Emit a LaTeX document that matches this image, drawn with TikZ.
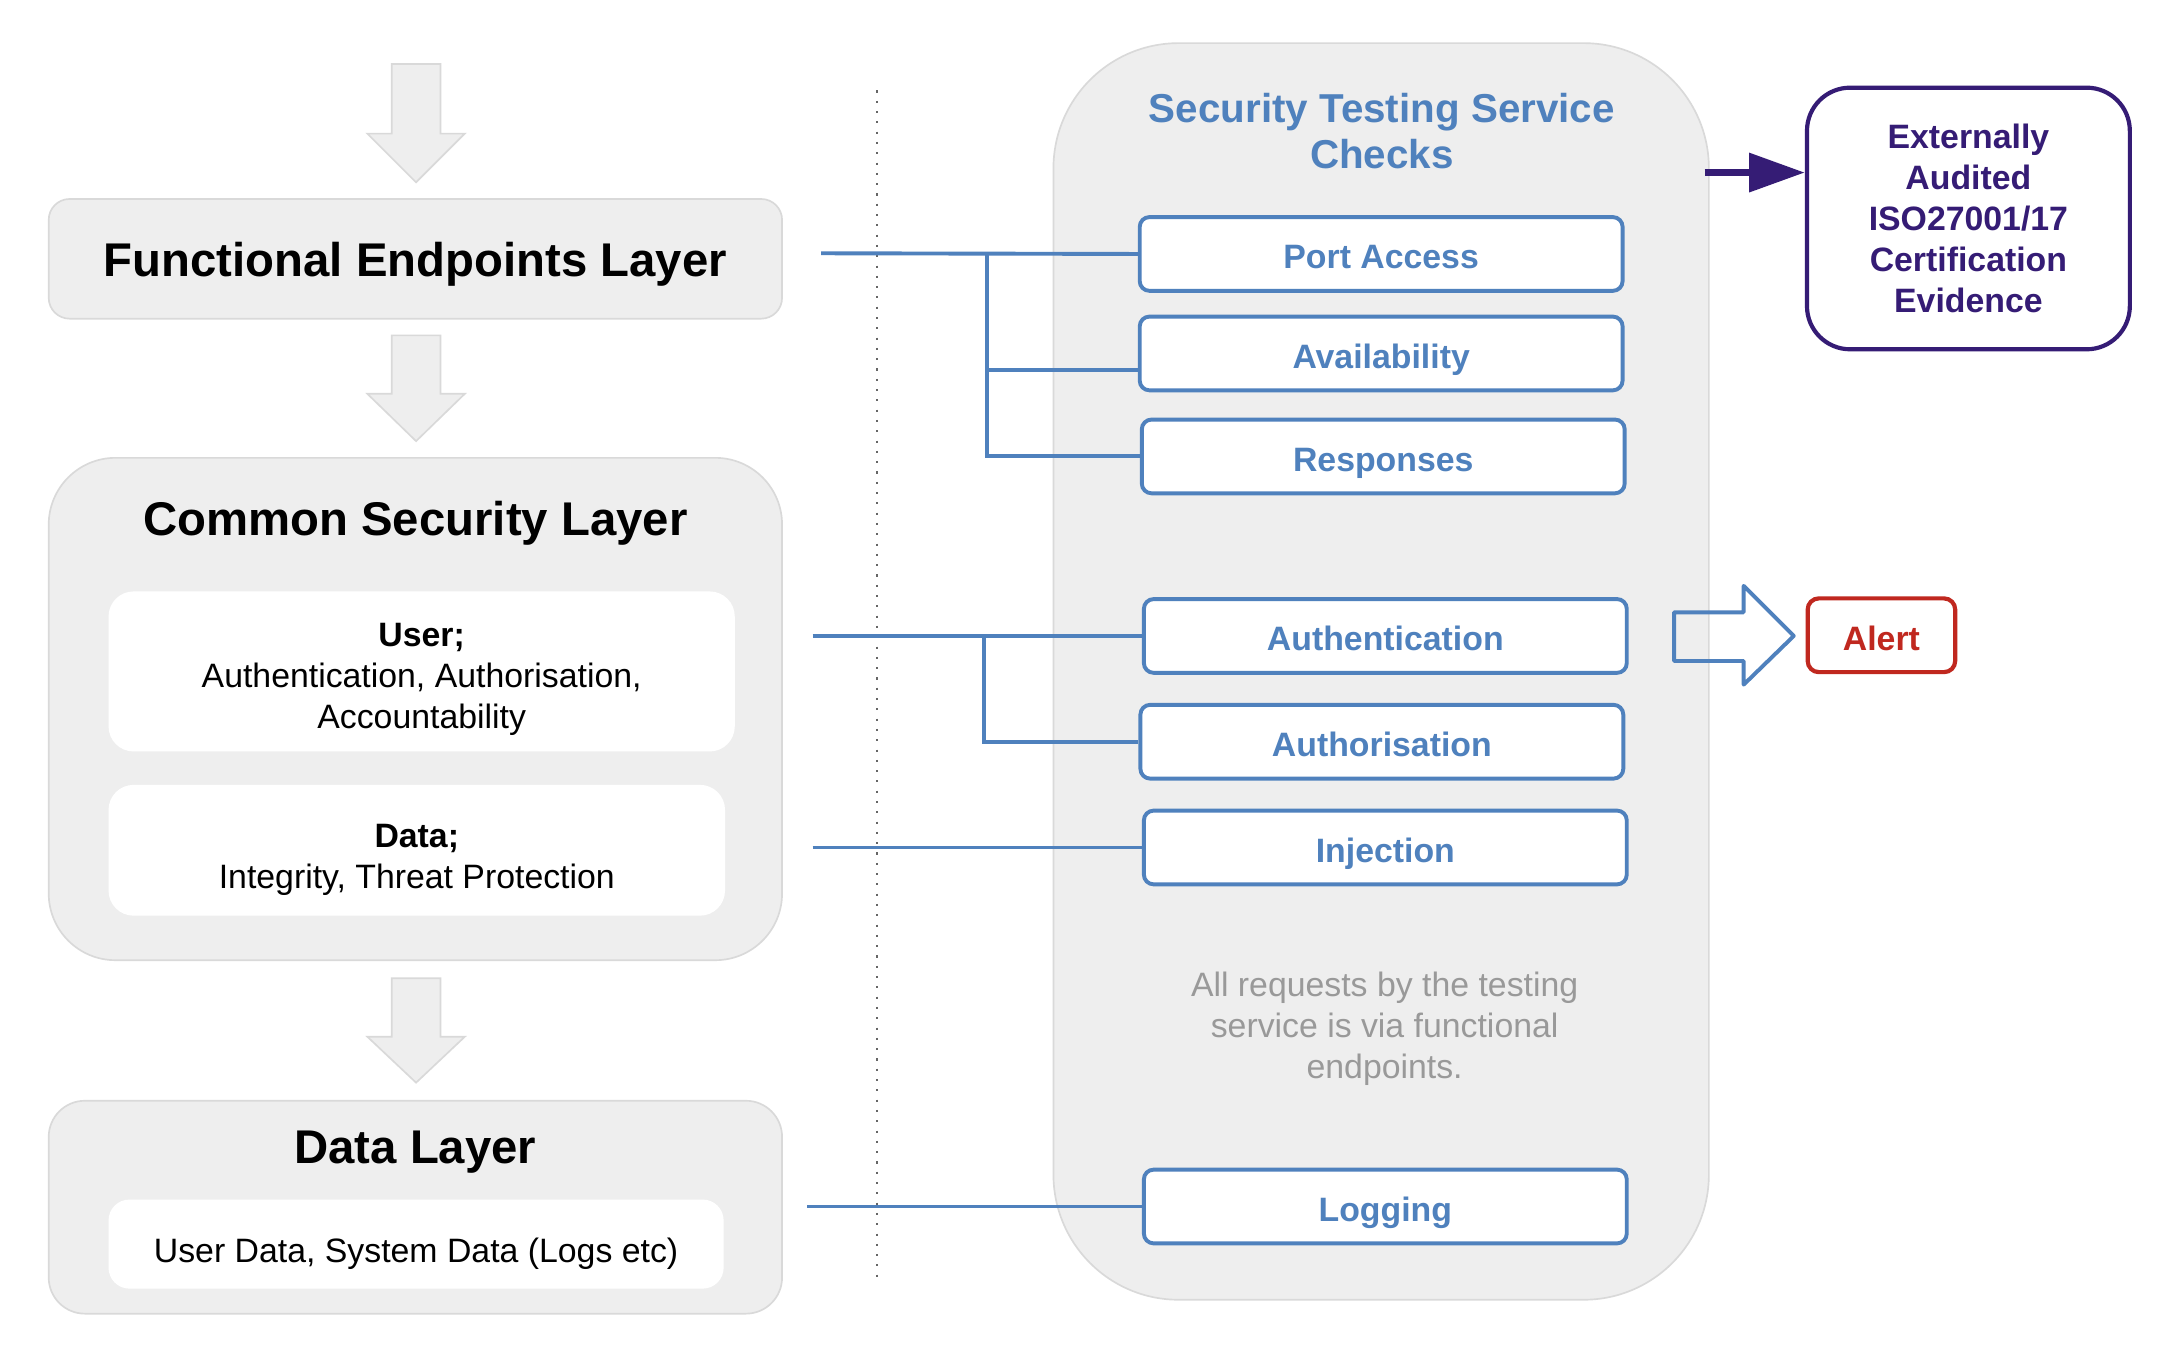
\documentclass[tikz,border=0pt]{standalone}
\usepackage{fontspec}
\setmainfont{Liberation Sans}
\usetikzlibrary{arrows.meta}
\definecolor{boxgray}{HTML}{EEEEEE}
\definecolor{edgegray}{HTML}{D9D9D9}
\definecolor{testblue}{HTML}{4F81BD}
\definecolor{auditpurple}{HTML}{351C75}
\definecolor{alertred}{HTML}{C0281F}
\definecolor{notegray}{HTML}{999999}

\begin{document}
\begin{tikzpicture}[x=1pt,y=-1pt,
        layer/.style={draw=edgegray,fill=boxgray,line width=1.2pt},
        inner/.style={fill=white,rounded corners=18pt},
        big/.style={font=\bfseries\fontsize{34}{40}\selectfont},
        small/.style={font=\fontsize{24.3}{29.5}\selectfont,align=center},
        check/.style={draw=testblue,line width=2.8pt,fill=white,rounded corners=7pt,
            minimum width=347pt,minimum height=53pt,text=testblue,
            text height=21.5pt,text depth=0pt,
            font=\bfseries\fontsize{24.3}{29.5}\selectfont},
        link/.style={draw=testblue,line width=2.8pt}]
        \fill[white] (0,0) rectangle (1568,969);
        % layers on the left
        \foreach \t/\n/\b in {46/96/131,241/283/317,703/745/778}
        {
            \draw[layer,line join=miter] (281.5,\t)--(316.5,\t)--(316.5,\n)--(334,\n)--(299,\b)--(264,\n)--(281.5,\n)--cycle;
        }
        \node[layer,rounded corners=15pt,minimum width=527pt,minimum height=86pt,big,text height=26pt,text depth=0pt] (fel) at (298.5,186) {Functional Endpoints Layer};
        \node[layer,rounded corners=48pt,minimum width=527pt,minimum height=361pt] (csl) at (298.5,509.5) {};
        \node[big] (csltitle) at (298.5,376) {Common Security Layer};
        \node[inner,minimum width=450pt,minimum height=115pt] (user) at (303,482.5) {};
        \node[small] (usertext) at (303,488.5) {\textbf{User;}\\Authentication, Authorisation,\\Accountability};
        \node[inner,minimum width=443pt,minimum height=94pt] (data) at (299.5,611) {};
        \node[small] (datatext) at (299.5,618) {\textbf{Data;}\\Integrity, Threat Protection};
        \node[layer,rounded corners=26pt,minimum width=527pt,minimum height=153pt] (dl) at (298.5,867.5) {};
        \node[big] (dltitle) at (298.5,828) {Data Layer};
        \node[inner,rounded corners=15pt,minimum width=442pt,minimum height=64pt] (dldata) at (299,894) {};
        \node[small] (dltext) at (299,901) {User Data, System Data (Logs etc)};
        % separator
        \coordinate (septop) at (630,65);
        \coordinate (sepbot) at (630,918);
        \draw[black!60,line width=1.5pt,dash pattern=on 1.5pt off 5.9pt] (septop)--(sepbot);
        % testing service
        \node[layer,rounded corners=90pt,minimum width=471pt,minimum height=903pt] (tests) at (992.5,482.5) {};
        \node[font=\bfseries\fontsize{29}{33}\selectfont,text=testblue,align=center] (teststitle) at (993,94.5) {Security Testing Service\\Checks};
        \node[check] (port) at (992.5,182.5) {Port Access};
        \node[check] (avail) at (992.5,254) {Availability};
        \node[check] (resp) at (994,328) {Responses};
        \node[check] (authn) at (995.5,457) {Authentication};
        \node[check] (authz) at (993,533) {Authorisation};
        \node[check] (inject) at (995.5,609) {Injection};
        \node[check] (logging) at (995.5,867) {Logging};
        \node[small,text=notegray] (note) at (995,739) {All requests by the testing\\service is via functional\\endpoints.};
        % connectors
        \coordinate (fe) at (590,182);
        \coordinate (j1) at (709,182);
        \draw[link] (fe)--(port.west);
        \draw[link] (j1)|-([yshift=-12pt]avail.west);
        \draw[link] (j1)|-(resp.west);
        \coordinate (ua) at (584,457);
        \coordinate (j2) at (707,457);
        \draw[link] (ua)--(authn.west);
        \draw[link] (j2)|-(authz.west);
        \coordinate (di) at (584,609);
        \draw[link] (di)--(inject.west);
        \coordinate (lg) at (580,867);
        \draw[link] (lg)--(logging.west);
        % outputs
        \node[draw=auditpurple,fill=white,line width=3pt,rounded corners=31pt,minimum width=232pt,minimum height=188pt,text=auditpurple,
            font=\bfseries\fontsize{24.3}{29.5}\selectfont,align=center] (extern) at (1414.5,157) {Externally\\Audited\\ISO27001/17\\Certification\\Evidence};
        \coordinate (pa) at (1225,124);
        \draw[auditpurple,line width=5.5pt,-{Triangle[length=40pt,width=27pt]}] (pa)--(extern.west |- pa);
        \node[draw=alertred,fill=white,line width=3pt,rounded corners=8pt,minimum width=106pt,minimum height=53pt,text=alertred,
            text height=22.5pt,text depth=0pt,font=\bfseries\fontsize{24.3}{29.5}\selectfont] (alert) at (1352,456.5) {Alert};
        \draw[testblue,line width=2.8pt,line join=round] (1203,440)--(1253,440)--(1253,421)--(1289,457)--(1253,492)--(1253,475)--(1203,475)--cycle;
    \end{tikzpicture}
\end{document}
